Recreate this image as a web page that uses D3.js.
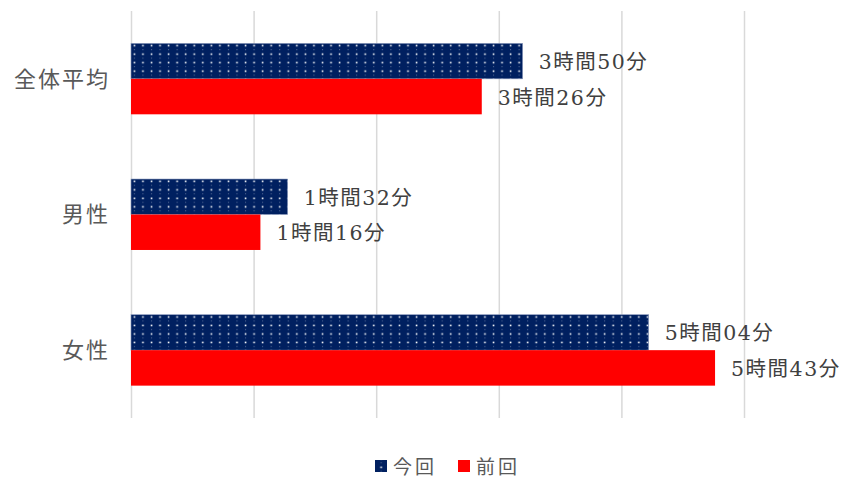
<!DOCTYPE html>
<html>
<head>
<meta charset="utf-8">
<script src="https://cdn.jsdelivr.net/npm/d3@7"></script>
<style>
  html, body { margin: 0; padding: 0; background: #fff; }
  svg { display: block; }
</style>
</head>
<body>
<svg id="chart" width="852" height="479"></svg>
<script>
// Categories (top to bottom) and series
const categories = ["全体平均", "男性", "女性"];
const seriesNames = ["今回", "前回"];
// Average time in minutes
const valuesCurrent = [230, 92, 304];   // 今回
const valuesPrevious = [206, 76, 343];  // 前回
// Grid positions in minutes (0.05-day steps)
const gridMinutes = [0, 72, 144, 216, 288, 360];

const seriesColors = { "今回": "#002060", "前回": "#ff0000" };

const svg = d3.select("#chart");
const plot = { left: 131, right: 744, top: 11, bottom: 418 };

const x = d3.scaleLinear().domain([0, 360]).range([plot.left, plot.right]);
const y = d3.scaleBand().domain(categories)
  .range([plot.top, plot.bottom])
  .paddingInner(0.477).paddingOuter(0.2385);
const ySub = d3.scaleBand().domain(seriesNames).range([0, y.bandwidth()]);

// Dotted fill for 今回
const defs = svg.append("defs");
const pat = defs.append("pattern")
  .attr("id", "dots").attr("patternUnits", "userSpaceOnUse")
  .attr("x", plot.left).attr("y", 0)
  .attr("width", 8.55).attr("height", 8.5);
pat.append("rect").attr("width", 8.55).attr("height", 8.5).attr("fill", seriesColors["今回"]);
pat.append("rect").attr("x", 2.6).attr("y", 1.5).attr("width", 1.6).attr("height", 1.6).attr("fill", "#fff");
pat.append("rect").attr("x", 2.9).attr("y", 5.8).attr("width", 1).attr("height", 1).attr("fill", "#fff").attr("opacity", 0.35);

// Vertical gridlines
const grid = svg.append("g")
  .attr("transform", `translate(0,${plot.bottom})`)
  .call(d3.axisBottom(x).tickValues(gridMinutes).tickSize(-(plot.bottom - plot.top)).tickFormat(""));
grid.select(".domain").remove();
grid.selectAll(".tick line").attr("stroke", "#d9d9d9").attr("stroke-width", 1.5);

// Rows of data
const rows = categories.map((c, i) => ({
  cat: c,
  vals: [
    { s: "今回", v: valuesCurrent[i] },
    { s: "前回", v: valuesPrevious[i] }
  ]
}));

const fmt = m => `${Math.floor(m / 60)}時間${String(m % 60).padStart(2, "0")}分`;

const groups = svg.append("g").selectAll("g")
  .data(rows).join("g")
  .attr("transform", d => `translate(0,${y(d.cat)})`);

groups.selectAll("rect")
  .data(d => d.vals).join("rect")
  .attr("x", x(0))
  .attr("y", d => ySub(d.s))
  .attr("width", d => x(d.v) - x(0))
  .attr("height", ySub.bandwidth())
  .attr("fill", d => d.s === "今回" ? "url(#dots)" : seriesColors[d.s])
  .attr("stroke", d => d.s === "今回" ? "#8d9bbd" : "none")
  .attr("stroke-width", 0.6);

groups.selectAll("text")
  .data(d => d.vals).join("text")
  .attr("x", d => x(d.v) + 16)
  .attr("y", d => ySub(d.s) + ySub.bandwidth() / 2 + 1)
  .attr("dominant-baseline", "central")
  .attr("font-family", "'DejaVu Serif', 'Liberation Serif', 'Noto Sans CJK JP', serif")
  .attr("font-size", 20.5)
  .attr("letter-spacing", 1.5)
  .attr("fill", "#404040")
  .text(d => fmt(d.v));

// Category labels
const yAxis = svg.append("g")
  .attr("transform", `translate(${plot.left - 21},0)`)
  .call(d3.axisLeft(y).tickSize(0).tickPadding(0));
yAxis.select(".domain").remove();
yAxis.selectAll("text")
  .attr("font-family", "'Noto Sans CJK JP', sans-serif")
  .attr("font-size", 22)
  .attr("letter-spacing", 2)
  .attr("fill", "#595959")
  .attr("dy", "0.35em");

// Legend
const legend = svg.append("g").attr("transform", "translate(375,465)");
const legendItems = [
  { s: "今回", x: 0 },
  { s: "前回", x: 83 }
];
const li = legend.selectAll("g").data(legendItems).join("g")
  .attr("transform", d => `translate(${d.x},0)`);
li.append("rect")
  .attr("x", 0).attr("y", -5).attr("width", 12).attr("height", 12)
  .attr("fill", d => d.s === "今回" ? "url(#dots)" : seriesColors[d.s]);
li.append("text")
  .attr("x", 18).attr("y", 0)
  .attr("dominant-baseline", "central")
  .attr("font-family", "'Noto Sans CJK JP', sans-serif")
  .attr("font-size", 19)
  .attr("letter-spacing", 3)
  .attr("fill", "#595959")
  .text(d => d.s);
</script>
</body>
</html>
